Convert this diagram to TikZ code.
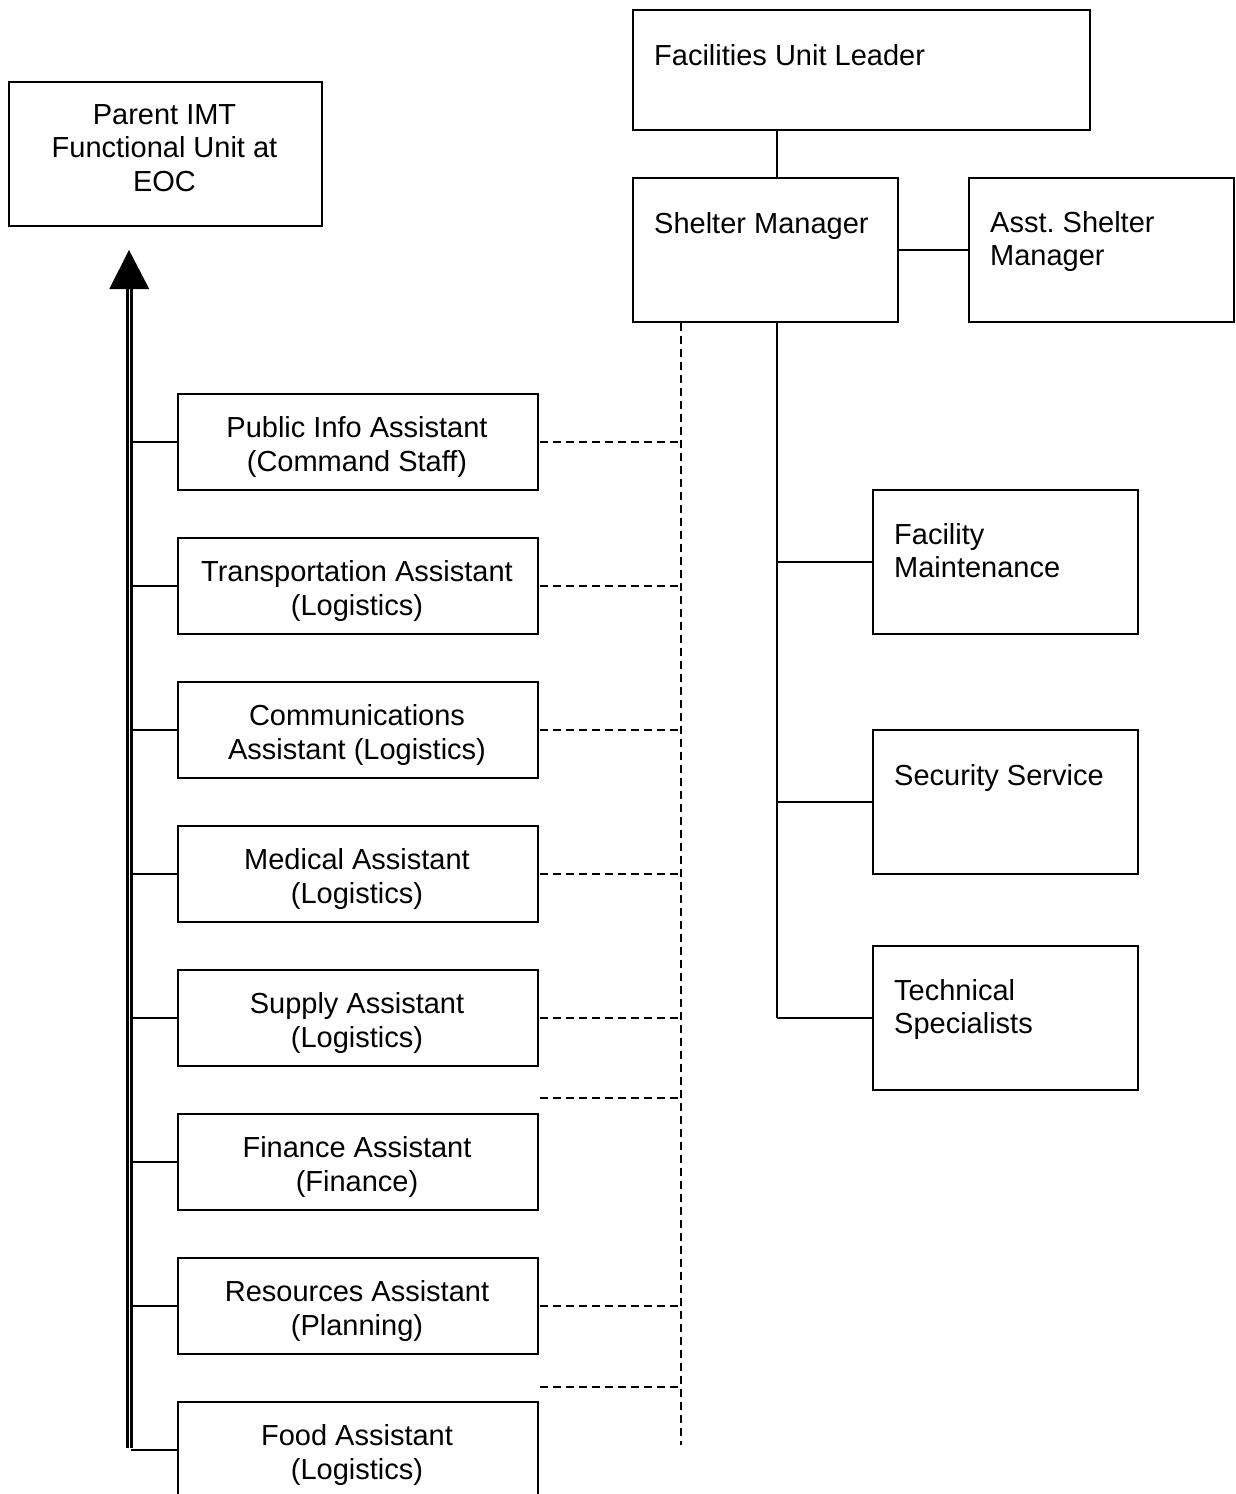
\documentclass[tikz,border=0pt]{standalone}
\usepackage{fontspec}
\setmainfont{Liberation Sans}
\frenchspacing
\begin{document}
\begin{tikzpicture}[x=1pt,y=-1pt,
  box/.style={draw,line width=1.5pt,inner sep=0pt,anchor=north west},
  unitbox/.style={box,minimum width=360pt,minimum height=96pt},
  sidebox/.style={box,minimum width=265pt,minimum height=144pt},
  lbl/.style={inner sep=0pt,font=\fontsize{29}{33.5}\selectfont,
    execute at begin node=\strut,execute at end node=\strut},
  solidlink/.style={line width=1.5pt},
  dashlink/.style={line width=1.6pt,dash pattern=on 8pt off 5pt},
  busline/.style={line width=3pt}]
\useasboundingbox (0,0) rectangle (1235,1494);

% reference columns
\coordinate (spine) at (777,0);
\coordinate (dsh) at (681,0);
\coordinate (bus) at (131,0);

% parent unit
\node[box,minimum width=313pt,minimum height=144pt] (par) at (8,81) {};
\node[lbl,align=center] (partxt) at (164.5,153) {Parent IMT\\Functional Unit at\\EOC};

% shelter command
\node[box,minimum width=457pt,minimum height=120pt] (fu) at (632,9) {};
\node[lbl,anchor=west] (futxt) at (654,58.7) {Facilities Unit Leader};
\node[sidebox] (sm) at (632,177) {};
\node[lbl,anchor=west] (smtxt) at (654,226.7) {Shelter Manager};
\node[sidebox] (asm) at (968,177) {};
\node[lbl,anchor=west,align=left] (asmtxt) at (990,243.7) {Asst. Shelter\\Manager};

% shelter services
\node[sidebox] (fm) at (872,489) {};
\node[lbl,anchor=west,align=left] (fmtxt) at (894,555.7) {Facility\\Maintenance};
\node[sidebox] (sec) at (872,729) {};
\node[lbl,anchor=west] (sectxt) at (894,778.7) {Security Service};
\node[sidebox] (ts) at (872,945) {};
\node[lbl,anchor=west,align=left] (tstxt) at (894,1011.7) {Technical\\Specialists};

% assistants
\node[unitbox] (pi) at (177,393) {};
\node[lbl,align=center] (pitxt) at (357,449) {Public Info Assistant\\(Command Staff)};
\node[unitbox] (tr) at (177,537) {};
\node[lbl,align=center] (trtxt) at (357,593) {Transportation Assistant\\(Logistics)};
\node[unitbox] (co) at (177,681) {};
\node[lbl,align=center] (cotxt) at (357,737) {Communications\\Assistant (Logistics)};
\node[unitbox] (me) at (177,825) {};
\node[lbl,align=center] (metxt) at (357,881) {Medical Assistant\\(Logistics)};
\node[unitbox] (su) at (177,969) {};
\node[lbl,align=center] (sutxt) at (357,1025) {Supply Assistant\\(Logistics)};
\node[unitbox] (fi) at (177,1113) {};
\node[lbl,align=center] (fitxt) at (357,1169) {Finance Assistant\\(Finance)};
\node[unitbox] (re) at (177,1257) {};
\node[lbl,align=center] (retxt) at (357,1313) {Resources Assistant\\(Planning)};
\node[unitbox] (fo) at (177,1401) {};
\node[lbl,align=center] (fotxt) at (357,1457) {Food Assistant\\(Logistics)};

% solid chain of command
\draw[solidlink] (fu.south -| spine) -- (sm.north -| spine);
\draw[solidlink] (sm.east) -- (asm.west);
\draw[solidlink] (sm.south -| spine) -- (ts.west -| spine);
\foreach \b in {fm,sec,ts}
  \draw[solidlink] (\b.west -| spine) -- (\b.west);

% dashed coordination links
\coordinate (dshend) at (681,1445);
\draw[dashlink] (sm.south -| dsh) -- (dshend);
\foreach \b in {pi,tr,co,me,su,re}
  \draw[dashlink] ([xshift=1pt]\b.east) -- (\b.east -| dsh);
\draw[dashlink] ([xshift=1pt,yshift=15pt]fi.north east) -- ([yshift=15pt]fi.north east -| dsh);
\draw[dashlink] ([xshift=1pt,yshift=14pt]fo.north east) -- ([yshift=14pt]fo.north east -| dsh);

% double reporting line to the parent unit
\coordinate (bustop) at (129.25,288);
\coordinate (busbot) at (129.25,1448);
\coordinate (tip) at (129,250);
\draw[busline] ([xshift=-2.25pt]busbot) -- ([xshift=-2.25pt]bustop);
\draw[busline] ([xshift=2.25pt]busbot) -- ([xshift=2.25pt]bustop);
\fill ([xshift=-20pt,yshift=-1pt]bustop) -- (tip) -- ([xshift=20pt,yshift=-1pt]bustop) -- cycle;
\foreach \b in {pi,tr,co,me,su,fi,re,fo}
  \draw[solidlink] (\b.west -| bus) -- (\b.west);
\end{tikzpicture}
\end{document}
